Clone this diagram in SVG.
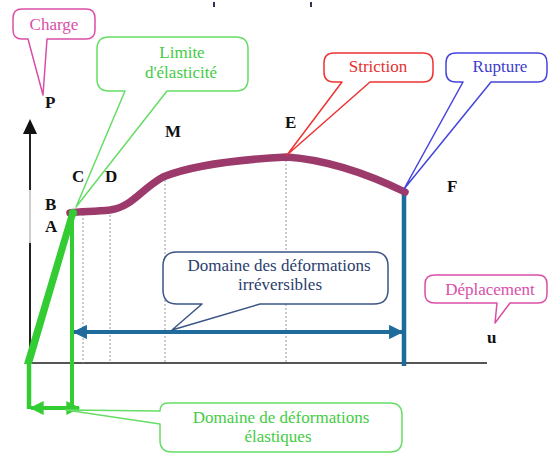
<svg xmlns="http://www.w3.org/2000/svg" width="548" height="453" viewBox="0 0 548 453">
<style>
text{font-family:'Liberation Serif','Times New Roman','DejaVu Serif',serif}
.lbl{font-size:17px;text-anchor:middle}
.pt{font-size:17px;font-weight:bold;fill:#111}
.co{fill:#fff;stroke-width:1.5;stroke-linejoin:round}
.dot{stroke:#999;stroke-width:1;stroke-dasharray:2 2;fill:none}
</style>
<defs>
<marker id="bh" viewBox="0 0 10 10" refX="9" refY="5" markerWidth="4.5" markerHeight="3.6" orient="auto-start-reverse" markerUnits="strokeWidth"><path d="M0,0 L10,5 L0,10 Z" fill="#1f6b9c"/></marker>
<marker id="gh" viewBox="0 0 10 10" refX="9" refY="5" markerWidth="4" markerHeight="3.5" orient="auto-start-reverse" markerUnits="strokeWidth"><path d="M0,0 L10,5 L0,10 Z" fill="#33cc33"/></marker>
</defs>
<rect width="548" height="453" fill="#fff"/>
<rect x="213" y="2" width="2" height="5" fill="#335"/>
<rect x="310" y="2" width="2" height="5" fill="#335"/>
<g id="axes">
<line x1="30" y1="133" x2="30" y2="190" stroke="#222" stroke-width="2"/>
<line x1="30" y1="190" x2="30" y2="243" stroke="#bbb" stroke-width="1.5"/>
<line x1="30" y1="243" x2="30" y2="363" stroke="#222" stroke-width="2"/>
<path d="M30,119 L37,134 L23,134 Z" fill="#111"/>
<line x1="29" y1="363" x2="487" y2="363" stroke="#555" stroke-width="1.8"/>
</g>
<g id="guides">
<line class="dot" x1="83" y1="214" x2="83" y2="363"/>
<line class="dot" x1="110" y1="211" x2="110" y2="363"/>
<line class="dot" x1="165" y1="176" x2="165" y2="363" stroke="#777"/>
<line class="dot" x1="286" y1="156" x2="286" y2="363"/>
</g>
<g id="connectors">
<line x1="404" y1="190" x2="404" y2="366" stroke="#1f6b9c" stroke-width="4.5"/>
<line x1="74" y1="332" x2="402" y2="332" stroke="#1f6b9c" stroke-width="4" marker-start="url(#bh)" marker-end="url(#bh)"/>
<path d="M70,213 C80,211 92,212 110,210 C132,207 140,190 163,177 C190,166 230,160 287,157 C330,160 370,175 405,192" fill="none" stroke="#9b3a6b" stroke-width="7.5" stroke-linecap="round"/>
<line x1="72" y1="213" x2="72" y2="410" stroke="#33cc33" stroke-width="4"/>
<line x1="29" y1="363" x2="29" y2="409" stroke="#33cc33" stroke-width="4.5"/>
<polygon points="24,364 32,364 76,214 70,210" fill="#33cc33"/>
<circle cx="73" cy="213" r="4" fill="#33cc33"/>
<line x1="31" y1="408" x2="79" y2="408" stroke="#33cc33" stroke-width="4" marker-start="url(#gh)" marker-end="url(#gh)"/>
</g>
<g id="labels">
<text class="pt" x="45" y="108">P</text>
<text class="pt" x="72" y="182">C</text>
<text class="pt" x="105" y="182">D</text>
<text class="pt" x="45" y="210">B</text>
<text class="pt" x="45" y="232">A</text>
<text class="pt" x="165" y="137">M</text>
<text class="pt" x="285" y="128">E</text>
<text class="pt" x="447" y="192">F</text>
<text class="pt" x="487" y="343">u</text>
</g>
<g id="charge">
<path class="co" stroke="#d94fa8" d="M22,9 H86 Q95,9 95,18 V30 Q95,39 86,39 H47 L43,95 L28,39 H22 Q13,39 13,30 V18 Q13,9 22,9 Z"/>
<text class="lbl" fill="#d94fa8" x="54" y="30">Charge</text>
</g>
<g id="limite">
<path class="co" stroke="#66dd66" d="M109,37 H236 Q248,37 248,49 V79 Q248,91 236,91 H167 L76,207 L125,91 H109 Q97,91 97,79 V49 Q97,37 109,37 Z"/>
<text class="lbl" fill="#44cc44" x="182" y="58">Limite</text>
<text class="lbl" fill="#44cc44" x="181" y="78">d'élasticité</text>
</g>
<g id="striction">
<path class="co" stroke="#ee3333" d="M334,53 H423 Q433,53 433,63 V72 Q433,82 423,82 H370 L287,155 L342,82 H334 Q324,82 324,72 V63 Q324,53 334,53 Z"/>
<text class="lbl" fill="#e53030" x="378" y="72">Striction</text>
</g>
<g id="rupture">
<path class="co" stroke="#4444dd" d="M456,53 H538 Q547,53 547,63 V72 Q547,82 538,82 H491 L404,189 L463,82 H456 Q446,82 446,72 V63 Q446,53 456,53 Z"/>
<text class="lbl" fill="#3d3dcc" x="500" y="72">Rupture</text>
</g>
<g id="irreversibles">
<path class="co" stroke="#3a5585" d="M177,252 H374 Q388,252 388,266 V290 Q388,304 374,304 H260 L172,330 L202,304 H177 Q163,304 163,290 V266 Q163,252 177,252 Z"/>
<text class="lbl" fill="#2a3d6e" x="279" y="271">Domaine des déformations</text>
<text class="lbl" fill="#2a3d6e" x="280" y="290">irréversibles</text>
</g>
<g id="deplacement">
<path class="co" stroke="#d94fa8" d="M435,275 H538 Q547,275 547,284 V294 Q547,303 538,303 H510 L495,323 L497,303 H435 Q425,303 425,294 V284 Q425,275 435,275 Z"/>
<text class="lbl" fill="#d94fa8" x="490" y="295">Déplacement</text>
</g>
<g id="elastiques">
<path class="co" stroke="#66dd66" d="M168,403 H390 Q402,403 402,415 V440 Q402,452 390,452 H172 Q160,452 160,440 V424 L66,410 L160,411 Q160,403 168,403 Z"/>
<text class="lbl" fill="#44cc44" x="281" y="423">Domaine de déformations</text>
<text class="lbl" fill="#44cc44" x="278" y="442">élastiques</text>
</g>
</svg>
